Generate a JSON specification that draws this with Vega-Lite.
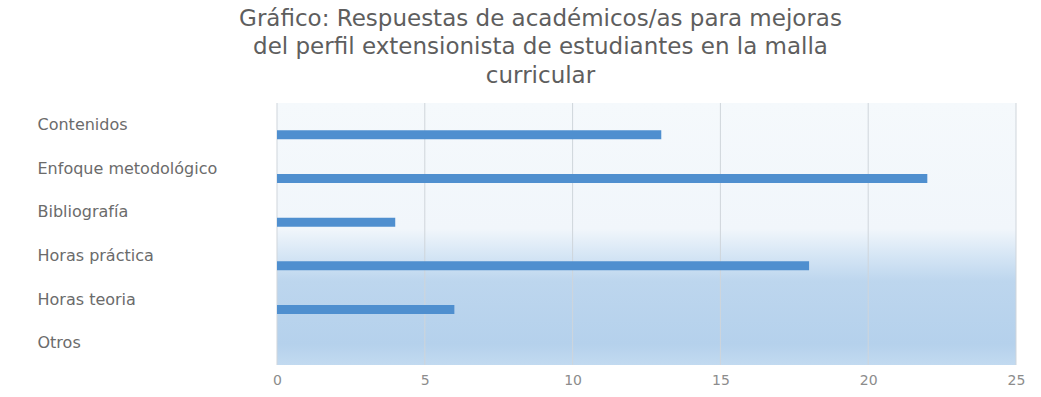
{
  "$schema": "https://vega.github.io/schema/vega-lite/v6.json",
  "autosize": {"type": "none"},
  "width": 739,
  "height": 262,
  "padding": {"left": 277, "top": 103, "right": 25, "bottom": 32},
  "background": "white",
  "title": {
    "text": ["Gráfico: Respuestas de académicos/as para  mejoras", "del perfil extensionista de estudiantes en la malla", "curricular"],
    "font": "DejaVu Sans",
    "fontSize": 23,
    "fontWeight": "normal",
    "color": "#5e5e5e",
    "lineHeight": 28.5,
    "anchor": "middle",
    "dx": -106,
    "offset": 15
  },
  "datasets": {
    "respuestas": [
      {"categoria": "Contenidos", "valor": 13},
      {"categoria": "Enfoque metodológico", "valor": 22},
      {"categoria": "Bibliografía", "valor": 4},
      {"categoria": "Horas práctica", "valor": 18},
      {"categoria": "Horas teoria", "valor": 6},
      {"categoria": "Otros", "valor": 0}
    ],
    "marcas": [
      {"v": 0}, {"v": 5}, {"v": 10}, {"v": 15}, {"v": 20}, {"v": 25}
    ]
  },
  "config": {"view": {"stroke": null}},
  "layer": [
    {
      "data": {"name": "respuestas"},
      "mark": {
        "type": "rect",
        "color": {
          "gradient": "linear",
          "x1": 0, "y1": 0, "x2": 0, "y2": 1,
          "stops": [
            {"offset": 0, "color": "#f5f9fc"},
            {"offset": 0.48, "color": "#f1f6fb"},
            {"offset": 0.58, "color": "#d6e6f5"},
            {"offset": 0.68, "color": "#bdd6ee"},
            {"offset": 0.92, "color": "#b5d1ec"},
            {"offset": 1, "color": "#c2daf0"}
          ]
        }
      },
      "encoding": {
        "x": {"datum": 0, "type": "quantitative"},
        "x2": {"datum": 25}
      }
    },
    {
      "data": {"name": "marcas"},
      "mark": {"type": "rule", "color": "#cfd5db", "strokeWidth": 1},
      "encoding": {
        "x": {"field": "v", "type": "quantitative"}
      }
    },
    {
      "data": {"name": "respuestas"},
      "mark": {"type": "bar", "height": 9, "yOffset": 10, "color": "#4f8fcf"},
      "encoding": {
        "y": {
          "field": "categoria",
          "type": "nominal",
          "sort": null,
          "title": null,
          "axis": {
            "labelAlign": "left",
            "labelPadding": 240,
            "labelLimit": 260,
            "labelFont": "DejaVu Sans",
            "labelFontSize": 16,
            "labelColor": "#6b6b6b",
            "ticks": false,
            "domain": false,
            "grid": false
          }
        },
        "x": {
          "field": "valor",
          "type": "quantitative",
          "scale": {"domain": [0, 25], "nice": false},
          "title": null,
          "axis": {
            "values": [0, 5, 10, 15, 20, 25],
            "labelFont": "DejaVu Sans",
            "labelFontSize": 14,
            "labelColor": "#8c8c8c",
            "labelPadding": 8,
            "labelFlush": false,
            "ticks": false,
            "domain": false,
            "grid": false
          }
        }
      }
    }
  ]
}
